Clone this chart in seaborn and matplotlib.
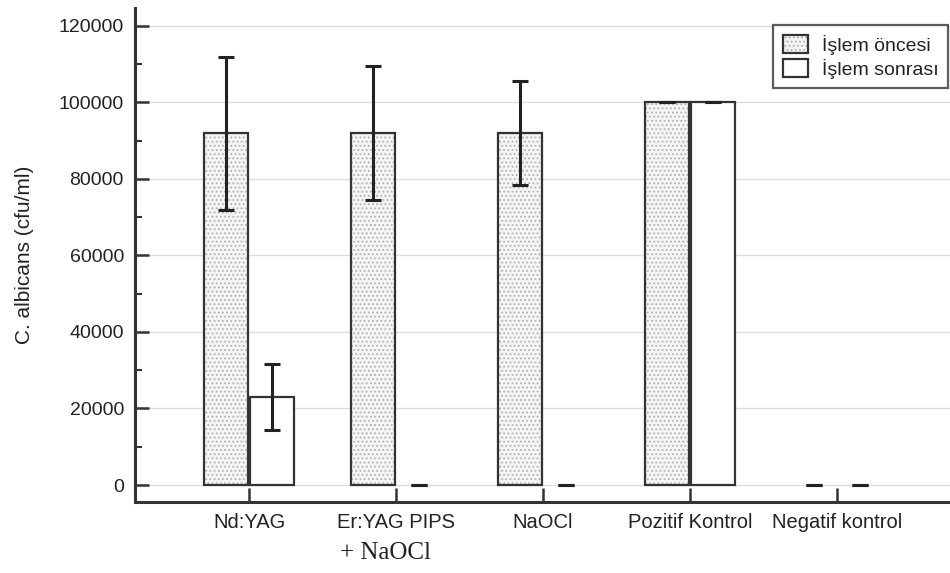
import numpy as np
import pandas as pd
import matplotlib
matplotlib.use("Agg")
import matplotlib.pyplot as plt
import seaborn as sns
from matplotlib.ticker import MultipleLocator

groups = ["Nd:YAG", "Er:YAG PIPS", "NaOCl", "Pozitif Kontrol", "Negatif kontrol"]
phases = ["İşlem öncesi", "İşlem sonrası"]
pre_mean = [92000, 92000, 92000, 100000, 0]
pre_sd = [20000, 17500, 13500, 0, 0]
post_mean = [23000, 0, 0, 100000, 0]
post_sd = [8600, 0, 0, 0, 0]
y_ticks = [0, 20000, 40000, 60000, 80000, 100000, 120000]

df = pd.DataFrame({
    "group": groups * 2,
    "phase": [phases[0]] * len(groups) + [phases[1]] * len(groups),
    "value": pre_mean + post_mean,
    "sd": pre_sd + post_sd,
})

sns.set_style("white")
plt.rcParams["font.family"] = ["Liberation Sans", "DejaVu Sans"]
plt.rcParams["hatch.linewidth"] = 0.8

fig = plt.figure(figsize=(9.5, 5.73), dpi=100)
ax = fig.add_axes([135 / 950, (573 - 502) / 573, 1 - 135 / 950, (502 - 8) / 573])

sns.barplot(data=df, x="group", y="value", hue="phase", order=groups,
            hue_order=phases, palette=["#f4f4f4", "white"], width=0.63,
            gap=0.06, errorbar=None, ax=ax, legend=False)

dark = "#333333"
bar_conts = list(ax.containers)
for ci, cont in enumerate(bar_conts):
    for p in cont:
        if ci == 0:
            p.set_hatch("....")
        p.set_edgecolor(dark)
        p.set_linewidth(1.6)
        if ci == 0:
            if hasattr(p, "set_hatchcolor"):
                p.set_hatchcolor("#b0b0b0")
            else:
                p._hatch_color = matplotlib.colors.to_rgba("#b0b0b0")
        if p.get_height() == 0:
            p.set_linewidth(0)

# error bars
for ci, cont in enumerate(bar_conts):
    sub = df[df["phase"] == phases[ci]]
    xs = [p.get_x() + p.get_width() / 2 for p in cont]
    ax.errorbar(xs, sub["value"].values, yerr=sub["sd"].values, fmt="none",
                ecolor="#222222", elinewidth=2.2, capsize=5.8, capthick=2.2,
                zorder=5)

ax.set_xlim(-0.776, 4.77)
ax.set_ylim(-4444, 124700)
ax.set_yticks(y_ticks)
ax.yaxis.set_minor_locator(MultipleLocator(10000))
ax.grid(axis="y", which="major", color="#dddddd", linewidth=1.0)
ax.set_axisbelow(True)

for s in ["top", "right"]:
    ax.spines[s].set_visible(False)
for s in ["left", "bottom"]:
    ax.spines[s].set_color(dark)
    ax.spines[s].set_linewidth(2.2)

ax.tick_params(axis="both", which="major", direction="in", length=10, width=1.8,
               color=dark, labelcolor="#222222", left=True, bottom=True)
ax.tick_params(axis="y", which="major", labelsize=14, pad=8)
ax.tick_params(axis="x", which="major", labelsize=14.5, pad=8)
ax.tick_params(axis="y", which="minor", direction="in", length=5, width=1.5,
               color=dark, left=True)

ax.set_xlabel("")
ax.set_ylabel("C. albicans (cfu/ml)", fontsize=15, color="#222222", labelpad=18)

trans = matplotlib.transforms.blended_transform_factory(ax.transData, fig.transFigure)
ax.text(0.93, 1 - 553 / 573, "+ NaOCl", transform=trans,
        ha="center", va="center", fontsize=18,
        family=["Liberation Serif", "DejaVu Serif"], color="#222222")

handles = [bar_conts[0][0], bar_conts[1][0]]
leg = ax.legend(handles=handles, labels=phases, loc="upper right",
                bbox_to_anchor=(948 / 950, 1 - 25 / 573),
                bbox_transform=fig.transFigure, fontsize=14, frameon=True,
                fancybox=False, handlelength=1.3, handleheight=1.0,
                handletextpad=0.7, borderpad=0.5, labelspacing=0.2,
                borderaxespad=0)
leg.get_frame().set_edgecolor(dark)
leg.get_frame().set_linewidth(1.6)
for t in leg.get_texts():
    t.set_color("#222222")

fig.savefig("out.png", dpi=100)
